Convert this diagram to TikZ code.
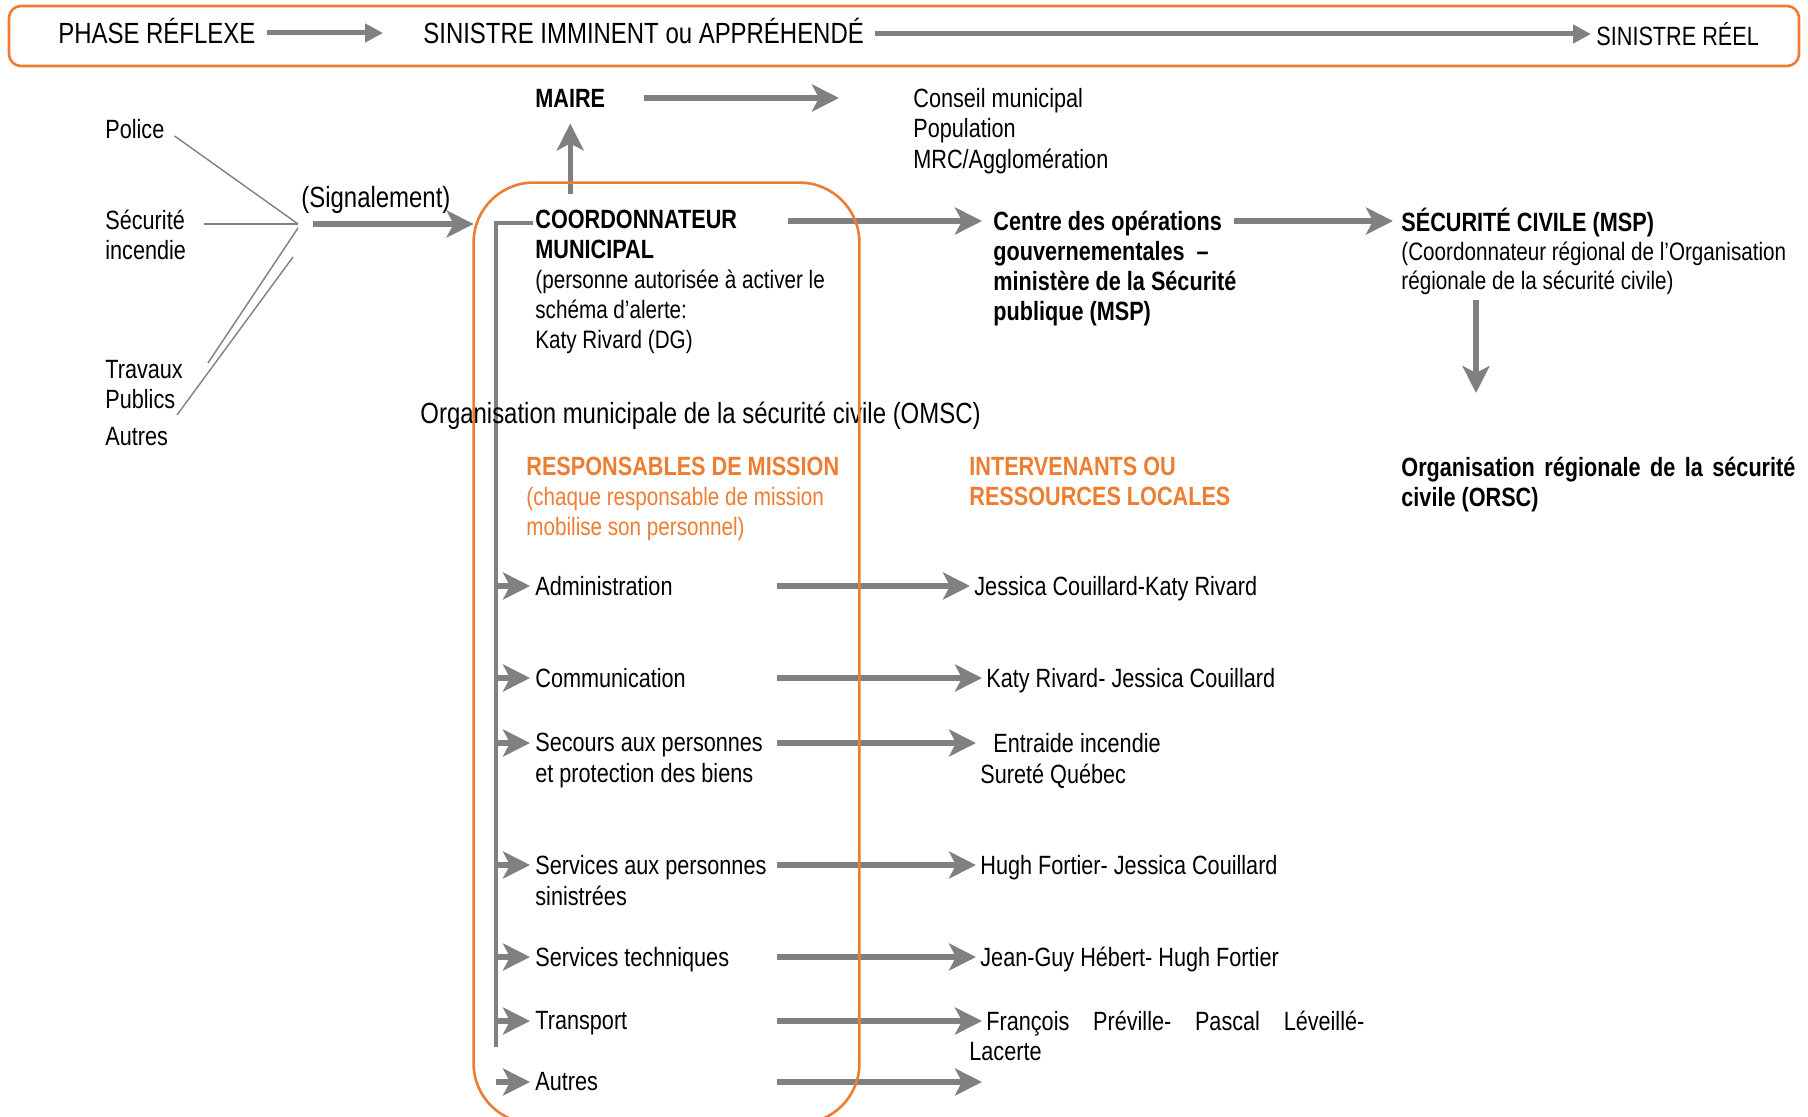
\documentclass[tikz,border=0pt]{standalone}
\usepackage{fontspec}
\setmainfont[FakeStretch=0.82]{Liberation Sans}
\usetikzlibrary{arrows.meta,calc}
\definecolor{omscorange}{HTML}{ED7D31}
\definecolor{arrowgray}{HTML}{808080}
\newcommand\desc{\fontsize{12.6}{15}\selectfont}
\tikzset{
  base/.style={inner sep=0pt, align=left, font=\fontsize{13.2}{15}\selectfont},
  big/.style={inner sep=0pt, align=left, font=\fontsize{14.6}{17}\selectfont},
  hd/.style={base, font=\fontsize{13.2}{15}\selectfont\bfseries},
  twoline/.style={base, font=\fontsize{13.2}{15.5}\selectfont},
  bigarrow/.style={draw=arrowgray, line width=2.75pt, -{Stealth[length=13.5pt, width=13.5pt, inset=3.5pt]}},
  toparrow/.style={draw=arrowgray, line width=2.5pt, -{Triangle[length=9pt, width=9pt]}},
  feed/.style={draw=arrowgray, line width=0.7pt},
  spine/.style={draw=arrowgray, line width=2.2pt},
  orangeline/.style={draw=omscorange, line width=1.3pt}
}
\begin{document}
\begin{tikzpicture}[x=0.5pt, y=-0.5pt]
\useasboundingbox (0,0) rectangle (1808,1117);

\node[orangeline, fill=white, rounded corners=6pt, minimum width=895pt, minimum height=30pt] (phasebar) at (904,36) {};
\node[big, anchor=west] (phase) at (58,31) {PHASE RÉFLEXE};
\node[big, anchor=west] (imminent) at (423,31) {SINISTRE IMMINENT ou APPRÉHENDÉ};
\node[base, anchor=west] (reel) at (1596,34) {SINISTRE RÉEL};
\draw[toparrow, shorten <=5.5pt, shorten >=20pt] ([yshift=-1pt]phase.east) -- ([yshift=-1pt]phase.east -| imminent.west);
\draw[toparrow, shorten <=5.5pt, shorten >=2.5pt] (imminent.east |- reel) -- (reel.west);

\node[base, anchor=west] (police) at (105,129) {Police};
\node[base, anchor=west] (securite) at (105,235) {Sécurité\\incendie};
\node[base, anchor=west] (travaux) at (105,385) {Travaux\\Publics};
\node[base, anchor=west] (autresg) at (105,437) {Autres};
\coordinate (apex) at (298,224);
\coordinate (apexb) at (293,257);
\coordinate (travend) at (208,363);
\coordinate (pubend) at (177,415);
\draw[feed, shorten <=6pt] (police.east) -- (apex);
\draw[feed, shorten <=9pt] (securite.east |- apex) -- (apex);
\draw[feed] ([yshift=-2pt]apex) -- (travend);
\draw[feed] (apexb) -- (pubend);
\node[big, anchor=west] (signal) at (301,200) {(Signalement)};

\path (666.5,653) node[minimum width=192.5pt, minimum height=470pt] (omsc) {};
\draw[bigarrow, shorten <=7.5pt] (apex) -- (apex -| omsc.west);

\node[hd, anchor=west] (maire) at (535,98) {MAIRE};
\node[base, font=\fontsize{13.2}{15.3}\selectfont, anchor=west] (conseil) at (913,131) {Conseil municipal\\Population\\MRC/Agglomération};
\draw[bigarrow, shorten <=19pt, shorten >=37pt] (maire.east) -- (maire.east -| conseil.west);

\node[base, anchor=north west] (coord) at (535,210) {\textbf{COORDONNATEUR}\\\textbf{MUNICIPAL}\\{\desc (personne autorisée à activer le}\\{\desc schéma d’alerte:}\\{\desc Katy Rivard (DG)}};
\draw[bigarrow, shorten <=8pt, shorten >=8pt] (maire |- coord.north) -- (maire.south);
\coordinate (spinetop) at (496,223);
\coordinate (spinebot) at (496,1047);
\draw[spine, shorten <=1pt] (coord.west |- spinetop) -- (spinetop) -- (spinebot);

\node[hd, anchor=north west] (centre) at (993,211) {Centre des opérations\\gouvernementales\ \ –\\ministère de la Sécurité\\publique (MSP)};
\coordinate (coordout) at (788,221);
\draw[bigarrow, shorten >=5.5pt] (coordout) -- (coordout -| centre.west);

\node[base, font=\fontsize{13.2}{14.5}\selectfont, anchor=north west] (secu) at (1401,208) {\textbf{SÉCURITÉ CIVILE (MSP)}\\{\desc (Coordonnateur régional de l’Organisation}\\{\desc régionale de la sécurité civile)}};
\coordinate (centreout) at (1234,221);
\draw[bigarrow, shorten >=4pt] (centreout) -- (centreout -| secu.west);

\node[hd, anchor=north west] (orsc) at (1401,457) {\makebox[197pt][s]{Organisation régionale de la sécurité}\\civile (ORSC)};
\coordinate (downtop) at (1476,300);
\draw[bigarrow, shorten >=32pt] (downtop) -- (downtop |- orsc.north);

\node[big, anchor=west] (omsclbl) at (420,416) {Organisation municipale de la sécurité civile (OMSC)};
\node[base, anchor=north west, text=omscorange] (resp) at (526,457) {\textbf{RESPONSABLES DE MISSION}\\{\desc (chaque responsable de mission}\\{\desc mobilise son personnel)}};
\node[hd, anchor=north west, text=omscorange] (interv) at (969,457) {INTERVENANTS OU\\RESSOURCES LOCALES};

\node[base, anchor=north west] (adm) at (535,576) {Administration};
\node[base, anchor=north west] (com) at (535,668) {Communication};
\node[twoline, anchor=north west] (sec) at (535,733) {Secours aux personnes\\et protection des biens};
\node[twoline, anchor=north west] (ser) at (535,855) {Services aux personnes\\sinistrées};
\node[base, anchor=north west] (tech) at (535,947) {Services techniques};
\node[base, anchor=north west] (trans) at (535,1011) {Transport};
\node[base, anchor=north west] (aut) at (535,1072) {Autres};

\node[base, anchor=north west] (jcr) at (974,576) {Jessica Couillard-Katy Rivard};
\node[base, anchor=north west] (krj) at (986,668) {Katy Rivard- Jessica Couillard};
\node[twoline, anchor=north west] (ent) at (980,733) {\hspace{6.5pt}Entraide incendie\\Sureté Québec};
\node[base, anchor=north west] (hfj) at (980,855) {Hugh Fortier- Jessica Couillard};
\node[base, anchor=north west] (jgh) at (980,947) {Jean-Guy Hébert- Hugh Fortier};
\node[base, anchor=north west] (fpl) at (986,1011) {\makebox[189pt][s]{François Préville- Pascal Léveillé-}};
\node[base, anchor=north west] (lac) at (969,1042) {Lacerte};
\coordinate (autend) at (986,1080);

\foreach \m/\r in {adm/jcr.west, com/krj.west, sec/ent.west, ser/hfj.west, tech/jgh.west, trans/fpl.west, aut/autend} {
  \coordinate (a) at ($(\m.north west)+(0,10)$);
  \draw[bigarrow, shorten >=2.5pt] (a -| spinetop) -- (a);
  \draw[bigarrow, shorten >=2pt] ([xshift=121pt]a) -- (a -| \r);
}

\draw[orangeline, rounded corners=30pt] (omsc.south west) rectangle (omsc.north east);
\end{tikzpicture}
\end{document}
